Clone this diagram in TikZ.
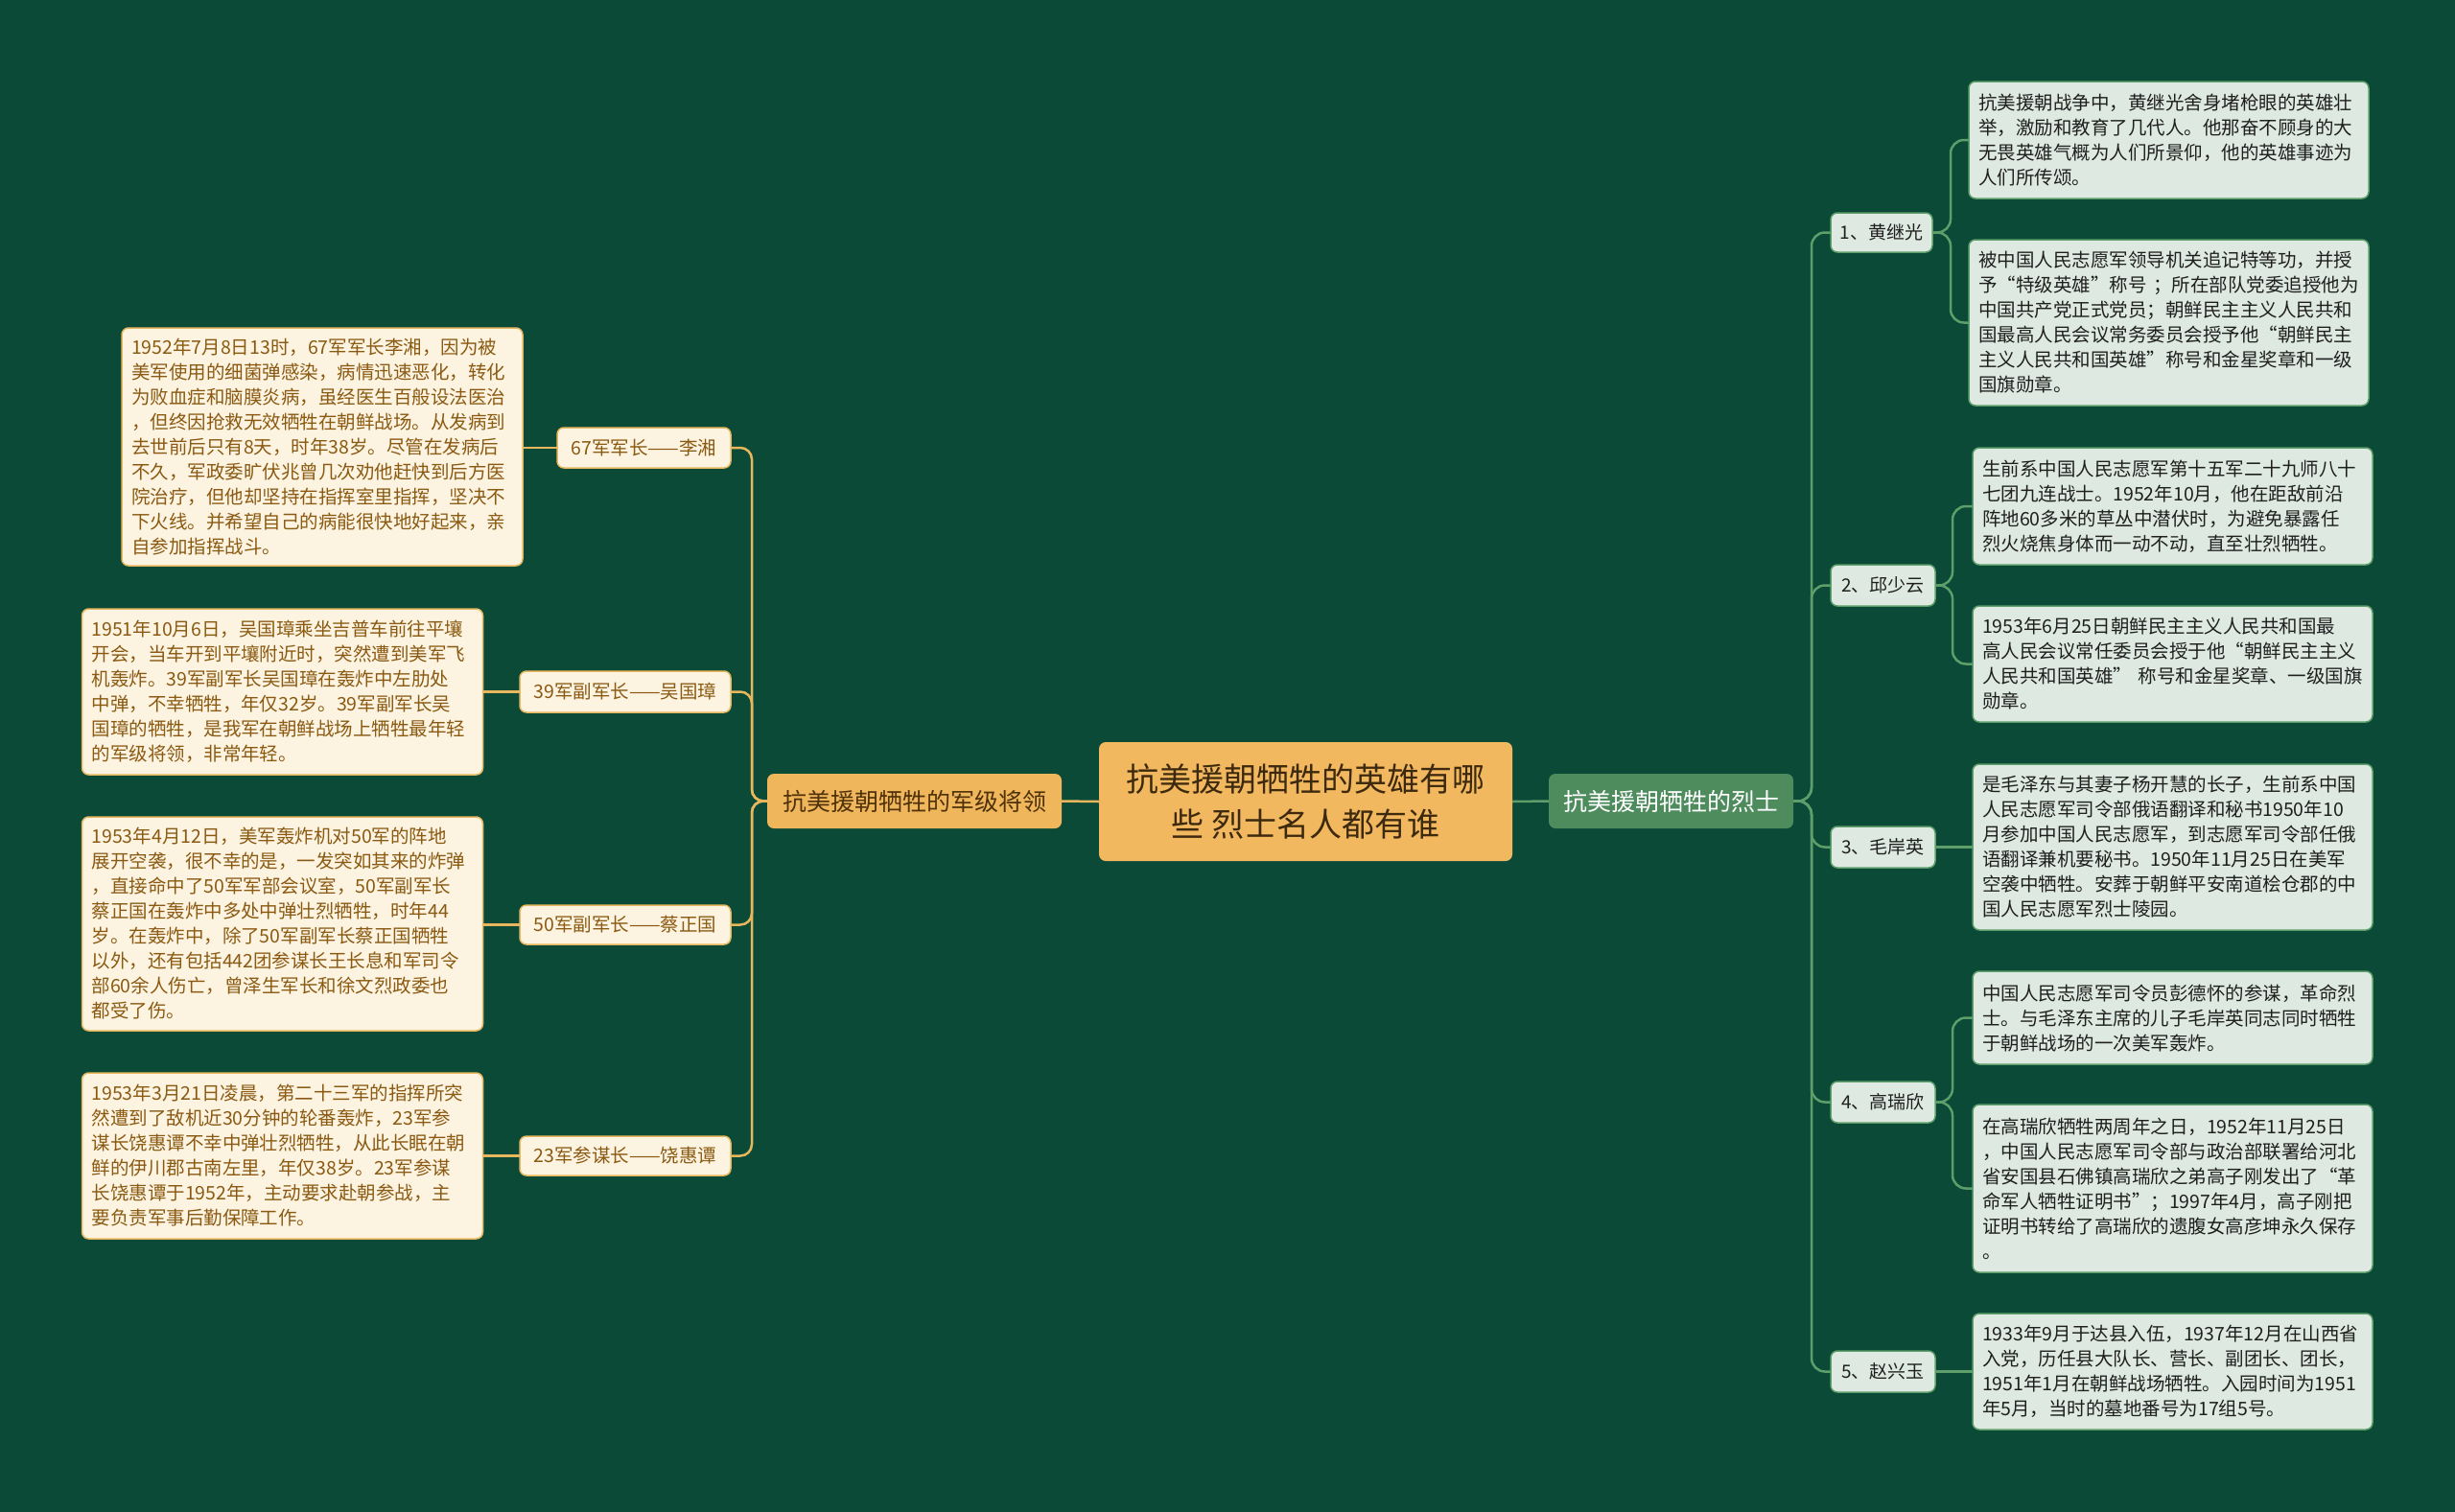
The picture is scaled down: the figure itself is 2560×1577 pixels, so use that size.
\documentclass[tikz,border=0pt]{standalone}
\usepackage{fontspec}
\setmainfont{Noto Sans CJK SC}
\definecolor{bg}{HTML}{0A4A37}
\definecolor{gold}{HTML}{E8B65C}
\definecolor{cream}{HTML}{FDF3E1}
\definecolor{brownt}{HTML}{8A5A12}
\definecolor{centerf}{HTML}{F2B860}
\definecolor{centert}{HTML}{3D2A0E}
\definecolor{lmainf}{HTML}{F0B65C}
\definecolor{lmaint}{HTML}{4F320A}
\definecolor{rmainf}{HTML}{4E8C5E}
\definecolor{gline}{HTML}{5E9E6A}
\definecolor{greyg}{HTML}{DDE9E1}
\definecolor{darkt}{HTML}{1F1F1F}
\tikzset{
  basebox/.style={rounded corners=7pt, inner sep=0pt, outer sep=0pt},
  centerbox/.style={basebox, fill=centerf, text=centert, align=center,
    font=\fontsize{34}{47}\selectfont},
  lmainbox/.style={basebox, fill=lmainf, text=lmaint, font=\fontsize{25}{30}\selectfont},
  rmainbox/.style={basebox, fill=rmainf, text=white, font=\fontsize{25}{30}\selectfont},
  labL/.style={basebox, fill=cream, draw=gold, line width=1.5pt, text=brownt,
    font=\fontsize{19.5}{24}\selectfont},
  labR/.style={basebox, fill=greyg, draw=gline, line width=1.5pt, text=darkt,
    font=\fontsize{19}{24}\selectfont},
  leafL/.style={basebox, fill=cream, draw=gold, line width=1.5pt, text=brownt,
    align=left, text width=398pt, inner xsep=10pt,
    font=\fontsize{19.5}{26}\selectfont},
  leafR/.style={basebox, fill=greyg, draw=gline, line width=1.5pt, text=darkt,
    align=left, text width=397pt, inner xsep=10pt,
    font=\fontsize{19.5}{26}\selectfont},
  lineL/.style={draw=gold, line width=2.5pt},
  lineR/.style={draw=gline, line width=2.5pt},
}
\begin{document}
\begin{tikzpicture}[x=1pt,y=-1pt]
\useasboundingbox (0,0) rectangle (2560,1577);
\fill[bg] (0,0) rectangle (2560,1577);

% center and main nodes
\node[centerbox, minimum width=431pt, minimum height=124pt] (c) at (1361.5,836)
  {抗美援朝牺牲的英雄有哪\\些 烈士名人都有谁};
\node[lmainbox, minimum width=307pt, minimum height=57pt] (lm) at (953.5,835.5) {抗美援朝牺牲的军级将领};
\node[rmainbox, minimum width=255pt, minimum height=57pt] (rm) at (1742.5,835.5) {抗美援朝牺牲的烈士};

% left labels
\node[labL, minimum width=181pt, minimum height=42pt] (l1) at (671.5,467) {67军军长——李湘};
\node[labL, minimum width=220pt, minimum height=43pt] (l2) at (652,721.5) {39军副军长——吴国璋};
\node[labL, minimum width=220pt, minimum height=41pt] (l3) at (652,964.5) {50军副军长——蔡正国};
\node[labL, minimum width=220pt, minimum height=41pt] (l4) at (652,1205.5) {23军参谋长——饶惠谭};

% left leaves
\node[leafL, minimum height=248pt] (a1) at (336,466) {1952年7月8日13时，67军军长李湘，因为被\\美军使用的细菌弹感染，病情迅速恶化，转化\\为败血症和脑膜炎病，虽经医生百般设法医治\\，但终因抢救无效牺牲在朝鲜战场。从发病到\\去世前后只有8天，时年38岁。尽管在发病后\\不久，军政委旷伏兆曾几次劝他赶快到后方医\\院治疗，但他却坚持在指挥室里指挥，坚决不\\下火线。并希望自己的病能很快地好起来，亲\\自参加指挥战斗。};
\node[leafL, minimum height=173pt] (a2) at (294.5,721.5) {1951年10月6日，吴国璋乘坐吉普车前往平壤\\开会，当车开到平壤附近时，突然遭到美军飞\\机轰炸。39军副军长吴国璋在轰炸中左肋处\\中弹，不幸牺牲，年仅32岁。39军副军长吴\\国璋的牺牲，是我军在朝鲜战场上牺牲最年轻\\的军级将领，非常年轻。};
\node[leafL, minimum height=223pt] (a3) at (294.5,963.5) {1953年4月12日，美军轰炸机对50军的阵地\\展开空袭，很不幸的是，一发突如其来的炸弹\\，直接命中了50军军部会议室，50军副军长\\蔡正国在轰炸中多处中弹壮烈牺牲，时年44\\岁。在轰炸中，除了50军副军长蔡正国牺牲\\以外，还有包括442团参谋长王长息和军司令\\部60余人伤亡，曾泽生军长和徐文烈政委也\\都受了伤。};
\node[leafL, minimum height=173pt] (a4) at (294.5,1205.5) {1953年3月21日凌晨，第二十三军的指挥所突\\然遭到了敌机近30分钟的轮番轰炸，23军参\\谋长饶惠谭不幸中弹壮烈牺牲，从此长眠在朝\\鲜的伊川郡古南左里，年仅38岁。23军参谋\\长饶惠谭于1952年，主动要求赴朝参战，主\\要负责军事后勤保障工作。};

% right labels
\node[labR, minimum width=106pt, minimum height=41pt] (r1) at (1962,242.5) {1、黄继光};
\node[labR, minimum width=109pt, minimum height=43pt] (r2) at (1963.5,610.5) {2、邱少云};
\node[labR, minimum width=109pt, minimum height=43pt] (r3) at (1963.5,883.5) {3、毛岸英};
\node[labR, minimum width=109pt, minimum height=43pt] (r4) at (1963.5,1149.5) {4、高瑞欣};
\node[labR, minimum width=109pt, minimum height=43pt] (r5) at (1963.5,1430.5) {5、赵兴玉};

% right leaves
\node[leafR, minimum height=122pt] (b1) at (2261.5,146) {抗美援朝战争中，黄继光舍身堵枪眼的英雄壮\\举，激励和教育了几代人。他那奋不顾身的大\\无畏英雄气概为人们所景仰，他的英雄事迹为\\人们所传颂。};
\node[leafR, minimum height=173pt] (b2) at (2261.5,336.5) {被中国人民志愿军领导机关追记特等功，并授\\予“特级英雄”称号 ；所在部队党委追授他为\\中国共产党正式党员；朝鲜民主主义人民共和\\国最高人民会议常务委员会授予他“朝鲜民主\\主义人民共和国英雄”称号和金星奖章和一级\\国旗勋章。};
\node[leafR, minimum height=122pt] (b3) at (2265.5,528) {生前系中国人民志愿军第十五军二十九师八十\\七团九连战士。1952年10月，他在距敌前沿\\阵地60多米的草丛中潜伏时，为避免暴露任\\烈火烧焦身体而一动不动，直至壮烈牺牲。};
\node[leafR, minimum height=121pt] (b4) at (2265.5,692.5) {1953年6月25日朝鲜民主主义人民共和国最\\高人民会议常任委员会授于他“朝鲜民主主义\\人民共和国英雄” 称号和金星奖章、一级国旗\\勋章。};
\node[leafR, minimum height=173pt] (b5) at (2265.5,883.5) {是毛泽东与其妻子杨开慧的长子，生前系中国\\人民志愿军司令部俄语翻译和秘书1950年10\\月参加中国人民志愿军，到志愿军司令部任俄\\语翻译兼机要秘书。1950年11月25日在美军\\空袭中牺牲。安葬于朝鲜平安南道桧仓郡的中\\国人民志愿军烈士陵园。};
\node[leafR, minimum height=97pt] (b6) at (2265.5,1061.5) {中国人民志愿军司令员彭德怀的参谋，革命烈\\士。与毛泽东主席的儿子毛岸英同志同时牺牲\\于朝鲜战场的一次美军轰炸。};
\node[leafR, minimum height=175pt] (b7) at (2265.5,1239.5) {在高瑞欣牺牲两周年之日，1952年11月25日\\，中国人民志愿军司令部与政治部联署给河北\\省安国县石佛镇高瑞欣之弟高子刚发出了“革\\命军人牺牲证明书”；1997年4月，高子刚把\\证明书转给了高瑞欣的遗腹女高彦坤永久保存\\。};
\node[leafR, minimum height=121pt] (b8) at (2265.5,1430.5) {1933年9月于达县入伍，1937年12月在山西省\\入党，历任县大队长、营长、副团长、团长，\\1951年1月在朝鲜战场牺牲。入园时间为1951\\年5月，当时的墓地番号为17组5号。};

% connectors
\draw[lineL] (c.west) -- (lm.east);
\draw[lineR] (c.east) -- (rm.west);
\foreach \t in {l1,l2,l3,l4}
  \draw[lineL, rounded corners=12pt] (lm.west) -- ++(-16,0) |- (\t.east);
\draw[lineL] (l1.west) -- (a1.east |- l1.west);
\draw[lineL] (l2.west) -- (a2.east |- l2.west);
\draw[lineL] (l3.west) -- (a3.east |- l3.west);
\draw[lineL] (l4.west) -- (a4.east |- l4.west);
\foreach \t in {r1,r2,r3,r4,r5}
  \draw[lineR, rounded corners=14pt] (rm.east) -- ++(19,0) |- (\t.west);
\draw[lineR, rounded corners=14pt] (r1.east) -- ++(19,0) |- (b1.west);
\draw[lineR, rounded corners=14pt] (r1.east) -- ++(19,0) |- (b2.west);
\draw[lineR, rounded corners=14pt] (r2.east) -- ++(18,0) |- (b3.west);
\draw[lineR, rounded corners=14pt] (r2.east) -- ++(18,0) |- (b4.west);
\draw[lineR] (r3.east) -- (b5.west |- r3.east);
\draw[lineR, rounded corners=14pt] (r4.east) -- ++(18,0) |- (b6.west);
\draw[lineR, rounded corners=14pt] (r4.east) -- ++(18,0) |- (b7.west);
\draw[lineR] (r5.east) -- (b8.west |- r5.east);
\end{tikzpicture}
\end{document}
